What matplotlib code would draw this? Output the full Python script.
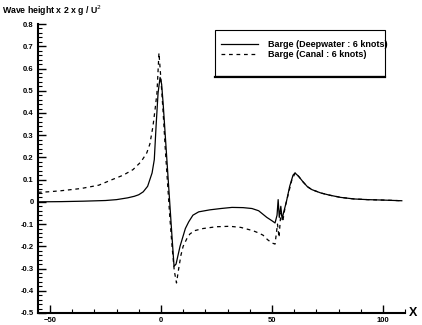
import numpy as np
import matplotlib
matplotlib.use('Agg')
import matplotlib.pyplot as plt
from matplotlib.ticker import MultipleLocator
from matplotlib.patches import Rectangle

plt.rcParams['font.family'] = ['Liberation Sans', 'DejaVu Sans']

# Barge (Deepwater : 6 knots)
deep_x = [-55.4, -45, -35, -25, -20, -15, -12, -10, -8, -6, -5, -4, -3, -2.2, -1.3, -0.4,
          0.3, 1, 2, 3, 4, 5, 5.9, 6.8, 8.6, 9.8, 11, 12.5, 14.4, 17, 22, 27, 32, 37, 41,
          44, 47.7, 50, 51.4, 52.3, 52.8, 53.3, 54, 54.6, 55.2, 56.5, 58, 59.5, 60.4, 62,
          64, 66, 68, 72, 76, 81, 87, 93, 100, 108.5]
deep_y = [0.0, 0.001, 0.003, 0.006, 0.01, 0.018, 0.025, 0.032, 0.045, 0.07, 0.1, 0.13, 0.19,
          0.34, 0.49, 0.56, 0.53, 0.44, 0.29, 0.14, -0.01, -0.16, -0.29, -0.28, -0.2, -0.16,
          -0.12, -0.09, -0.06, -0.045, -0.036, -0.03, -0.025, -0.026, -0.03, -0.04, -0.07,
          -0.085, -0.095, -0.06, 0.01, -0.07, -0.02, -0.08, -0.05, 0.0, 0.07, 0.12, 0.13,
          0.115, 0.09, 0.068, 0.055, 0.04, 0.03, 0.02, 0.013, 0.01, 0.008, 0.005]

# Barge (Canal : 6 knots)
canal_x = [-55.4, -51, -45, -36, -28, -22, -17, -12.6, -9, -6.4, -5, -3.6, -2.6, -1.8, -0.9,
           0, 1, 2, 3, 4, 5, 6, 7, 8, 9, 10, 11.7, 13, 15, 19, 25, 31, 36, 41.5, 44, 46, 48,
           50, 51.4, 52.5, 53.2, 54, 55, 56, 57.5, 59, 60.5, 62, 64, 66, 68, 72, 76, 81, 87,
           93, 100, 108.5]
canal_y = [0.043, 0.045, 0.05, 0.06, 0.075, 0.1, 0.12, 0.145, 0.18, 0.22, 0.26, 0.34, 0.42,
           0.49, 0.67, 0.55, 0.4, 0.23, 0.08, -0.07, -0.2, -0.31, -0.365, -0.3, -0.24, -0.2,
           -0.165, -0.145, -0.13, -0.12, -0.112, -0.11, -0.115, -0.13, -0.14, -0.15, -0.17,
           -0.185, -0.19, -0.1, -0.16, -0.05, -0.08, -0.02, 0.04, 0.1, 0.13, 0.115, 0.09,
           0.068, 0.055, 0.04, 0.03, 0.02, 0.013, 0.01, 0.008, 0.005]

fig = plt.figure(figsize=(4.22, 3.25), dpi=100)
ax = fig.add_axes([0.090, 0.037, 0.870, 0.889])

ax.plot(deep_x, deep_y, color='black', lw=0.9, label='Barge (Deepwater : 6 knots)')
ax.plot(canal_x, canal_y, color='black', lw=0.9, linestyle=(0, (3, 3)),
        label='Barge (Canal : 6 knots)')

ax.set_xlim(-55.4, 110)
ax.set_ylim(-0.5, 0.8)
ax.xaxis.set_major_locator(MultipleLocator(50))
ax.xaxis.set_minor_locator(MultipleLocator(10))
ax.yaxis.set_minor_locator(MultipleLocator(0.02))
ax.set_yticks(np.arange(-0.5, 0.81, 0.1))
ax.set_yticklabels(['-0.5', '-0.4', '-0.3', '-0.2', '-0.1', '0', '0.1', '0.2', '0.3', '0.4',
                    '0.5', '0.6', '0.7', '0.8'])
ax.tick_params(which='major', direction='in', length=6, width=1, labelsize=5.5, pad=3)
ax.tick_params(which='minor', direction='in', length=3, width=0.8)
for lab in ax.get_xticklabels() + ax.get_yticklabels():
    lab.set_fontweight('bold')

for s in ['top', 'right']:
    ax.spines[s].set_visible(False)
for s in ['left', 'bottom']:
    ax.spines[s].set_linewidth(1.5)

fig.text(0.005, 0.968, 'Wave height x 2 x g / U$^2$', fontsize=6.3, fontweight='bold',
         va='center', ha='left')
fig.text(0.978, 0.037, 'X', fontsize=9, fontweight='bold', va='center', ha='center')

# legend frame with a heavier bottom edge
frame = Rectangle((0.5095, 0.765), 0.403, 0.143, transform=fig.transFigure,
                  facecolor='white', edgecolor='black', lw=0.8, zorder=5, clip_on=False)
ax.add_patch(frame)
ax.plot([0.5095, 0.913], [0.762, 0.762], transform=fig.transFigure, clip_on=False,
        color='black', lw=1.6, zorder=5)

leg = ax.legend(loc='upper left', bbox_to_anchor=(0.524, 0.876), bbox_transform=fig.transFigure,
                fontsize=6.5, frameon=False, borderaxespad=0, borderpad=0,
                handlelength=4.1, handletextpad=1.1, labelspacing=0.1,
                handles=ax.get_lines()[:2])
leg.set_zorder(6)
for t in leg.get_texts():
    t.set_fontweight('bold')

fig.savefig('out.png', dpi=100)
